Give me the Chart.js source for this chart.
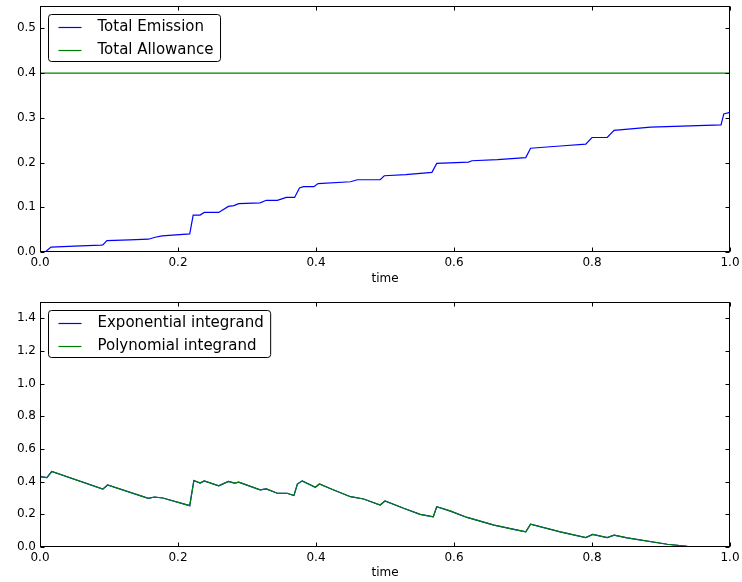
<!DOCTYPE html>
<html><head><meta charset="utf-8">
<script src="https://cdn.jsdelivr.net/npm/chart.js@4/dist/chart.umd.min.js"></script>
<style>
html,body{margin:0;padding:0;background:#fff;}
#wrap{position:relative;width:742px;height:582px;overflow:hidden;}
.box{position:absolute;left:0;width:742px;height:291px;}
</style></head><body>
<div id="wrap">
<div class="box" style="top:0"><canvas id="c1" width="742" height="291"></canvas></div>
<div class="box" style="top:291px"><canvas id="c2" width="742" height="291"></canvas></div>
</div>
<script>
// ---- data ----
const emissionT = [0,0.0075,0.016,0.05,0.088,0.091,0.097,0.13,0.157,0.167,0.177,0.217,0.222,0.232,0.238,0.259,0.273,0.281,0.288,0.319,0.328,0.344,0.357,0.369,0.376,0.382,0.397,0.403,0.450,0.460,0.493,0.499,0.530,0.568,0.575,0.621,0.626,0.663,0.704,0.711,0.754,0.791,0.800,0.822,0.832,0.885,0.987,0.991,1.0];
const emissionV = [0,0,0.011,0.013,0.0155,0.016,0.0255,0.027,0.0286,0.033,0.036,0.0405,0.0826,0.0826,0.0885,0.0885,0.102,0.1036,0.108,0.110,0.1156,0.1156,0.122,0.122,0.143,0.146,0.146,0.153,0.157,0.1615,0.1615,0.1705,0.173,0.178,0.198,0.201,0.204,0.2065,0.211,0.232,0.237,0.241,0.256,0.256,0.272,0.279,0.284,0.3086,0.312];
const allowanceT = [0,1];
const allowanceV = [0.4,0.4];

const integrandT = [0,0.01,0.017,0.091,0.098,0.157,0.166,0.178,0.217,0.223,0.232,0.238,0.259,0.273,0.282,0.288,0.319,0.328,0.344,0.358,0.368,0.373,0.380,0.399,0.405,0.423,0.450,0.469,0.493,0.500,0.527,0.551,0.570,0.575,0.595,0.619,0.658,0.692,0.704,0.711,0.754,0.791,0.801,0.822,0.832,0.851,0.909,0.938,0.96,1.0];
const expV = [0.431,0.425,0.462,0.354,0.380,0.298,0.306,0.300,0.253,0.407,0.391,0.405,0.374,0.401,0.391,0.397,0.350,0.356,0.329,0.329,0.315,0.385,0.405,0.366,0.386,0.354,0.308,0.294,0.257,0.282,0.237,0.200,0.185,0.247,0.220,0.181,0.134,0.103,0.093,0.140,0.093,0.058,0.077,0.058,0.073,0.056,0.017,0.004,0.001,0];
const polyV = [0.431,0.425,0.462,0.354,0.380,0.298,0.306,0.300,0.253,0.407,0.391,0.405,0.374,0.401,0.391,0.397,0.350,0.356,0.329,0.329,0.315,0.385,0.405,0.366,0.386,0.354,0.308,0.294,0.257,0.282,0.237,0.200,0.185,0.247,0.220,0.181,0.134,0.103,0.093,0.140,0.093,0.058,0.077,0.058,0.073,0.056,0.017,0.004,0.001,0];

const xTicks = [0,0.2,0.4,0.6,0.8,1.0];
const yTicksTop = [0,0.1,0.2,0.3,0.4,0.5];
const yTicksBottom = [0,0.2,0.4,0.6,0.8,1.0,1.2,1.4];
const xLabel = 'time';
const topLabels = ['Total Emission','Total Allowance'];
const bottomLabels = ['Exponential integrand','Polynomial integrand'];

const FONT = 'DejaVu Sans';
const zip = (t, v) => t.map((x, i) => ({x: x, y: v[i]}));

// frame + inward ticks + framed legend
const mplPlugin = {
  id: 'mpl',
  afterDatasetsDraw(chart) {
    const ctx = chart.ctx, a = chart.chartArea;
    const xs = chart.scales.x, ys = chart.scales.y;
    ctx.save();
    ctx.strokeStyle = '#000';
    ctx.lineWidth = 1;
    const L = Math.round(a.left) + 0.5, R = Math.round(a.right) - 0.5;
    const T = Math.round(a.top) + 0.5, B = Math.round(a.bottom) - 0.5;
    ctx.strokeRect(L, T, R - L, B - T);
    ctx.beginPath();
    xs.ticks.forEach(t => {
      const p = Math.round(xs.getPixelForValue(t.value)) + 0.5;
      ctx.moveTo(p, B); ctx.lineTo(p, B - 4);
      ctx.moveTo(p, T); ctx.lineTo(p, T + 4);
    });
    ys.ticks.forEach(t => {
      const p = Math.round(ys.getPixelForValue(t.value)) + 0.5;
      ctx.moveTo(L, p); ctx.lineTo(L + 4, p);
      ctx.moveTo(R, p); ctx.lineTo(R - 4, p);
    });
    ctx.stroke();

    // legend
    const ds = chart.data.datasets.slice().sort((a, b) => a.legendIndex - b.legendIndex);
    ctx.font = '15px "' + FONT + '"';
    let maxW = 0;
    ds.forEach(d => { maxW = Math.max(maxW, ctx.measureText(d.label).width); });
    const bx = Math.round(a.left + 8) + 0.5, by = Math.round(a.top + 8) + 0.5;
    const rowH = 22.6;
    const bw = 49 + maxW + 7, bh = 12.7 + rowH * (ds.length - 1) + 11.7;
    const r = 3;
    ctx.beginPath();
    ctx.moveTo(bx + r, by);
    ctx.lineTo(bx + bw - r, by); ctx.quadraticCurveTo(bx + bw, by, bx + bw, by + r);
    ctx.lineTo(bx + bw, by + bh - r); ctx.quadraticCurveTo(bx + bw, by + bh, bx + bw - r, by + bh);
    ctx.lineTo(bx + r, by + bh); ctx.quadraticCurveTo(bx, by + bh, bx, by + bh - r);
    ctx.lineTo(bx, by + r); ctx.quadraticCurveTo(bx, by, bx + r, by);
    ctx.closePath();
    ctx.fillStyle = '#fff';
    ctx.fill();
    ctx.strokeStyle = '#000';
    ctx.stroke();
    ds.forEach((d, i) => {
      const cy = by + 12.7 + i * rowH;
      ctx.beginPath();
      ctx.strokeStyle = d.borderColor;
      ctx.lineWidth = 1.2;
      ctx.moveTo(bx + 10, Math.round(cy) + 0.5);
      ctx.lineTo(bx + 33, Math.round(cy) + 0.5);
      ctx.stroke();
      ctx.fillStyle = '#000';
      ctx.textBaseline = 'middle';
      ctx.textAlign = 'left';
      ctx.fillText(d.label, bx + 49, cy);
    });
    ctx.restore();
  }
};

function makeChart(id, datasets, yMax, yTicks, padTop, xScaleH, titlePadBottom) {
  return new Chart(document.getElementById(id), {
    type: 'line',
    data: { datasets: datasets },
    options: {
      responsive: false,
      animation: false,
      events: [],
      layout: { padding: { top: padTop, right: 12, left: 0, bottom: 0 } },
      plugins: { legend: { display: false }, tooltip: { enabled: false } },
      elements: { point: { radius: 0 }, line: { tension: 0, borderWidth: 1.2 } },
      scales: {
        x: {
          type: 'linear', min: 0, max: 1,
          afterBuildTicks: s => { s.ticks = xTicks.map(v => ({ value: v })); },
          afterFit: s => { s.height = xScaleH; s.paddingLeft = 0; s.paddingRight = 0; },
          grid: { display: false, drawTicks: false },
          border: { display: false },
          ticks: { padding: 4, color: '#000', maxRotation: 0, autoSkip: false,
                   font: { family: FONT, size: 12 }, callback: v => Number(v).toFixed(1) },
          title: { display: true, text: xLabel, color: '#000',
                   font: { family: FONT, size: 12 }, padding: { top: 0, bottom: titlePadBottom } }
        },
        y: {
          type: 'linear', min: 0, max: yMax,
          afterBuildTicks: s => { s.ticks = yTicks.map(v => ({ value: v })); },
          afterFit: s => { s.width = 40; s.paddingTop = 0; s.paddingBottom = 0; },
          grid: { display: false, drawTicks: false },
          border: { display: false },
          ticks: { padding: 4, color: '#000', autoSkip: false,
                   font: { family: FONT, size: 12 }, callback: v => Number(v).toFixed(1) }
        }
      }
    },
    plugins: [mplPlugin]
  });
}

makeChart('c1', [
  { label: topLabels[0], data: zip(emissionT, emissionV), borderColor: '#0000ff', legendIndex: 0, order: 0 },
  { label: topLabels[1], data: zip(allowanceT, allowanceV), borderColor: '#008000', legendIndex: 1, order: 1 }
], 0.55, yTicksTop, 6, 39, 5);

makeChart('c2', [
  { label: bottomLabels[0], data: zip(integrandT, expV), borderColor: '#0000ff', legendIndex: 0, order: 1 },
  { label: bottomLabels[1], data: zip(integrandT, polyV), borderColor: '#008000', legendIndex: 1, order: 0 }
], 1.5, yTicksBottom, 11, 35, 2);
</script>
</body></html>
